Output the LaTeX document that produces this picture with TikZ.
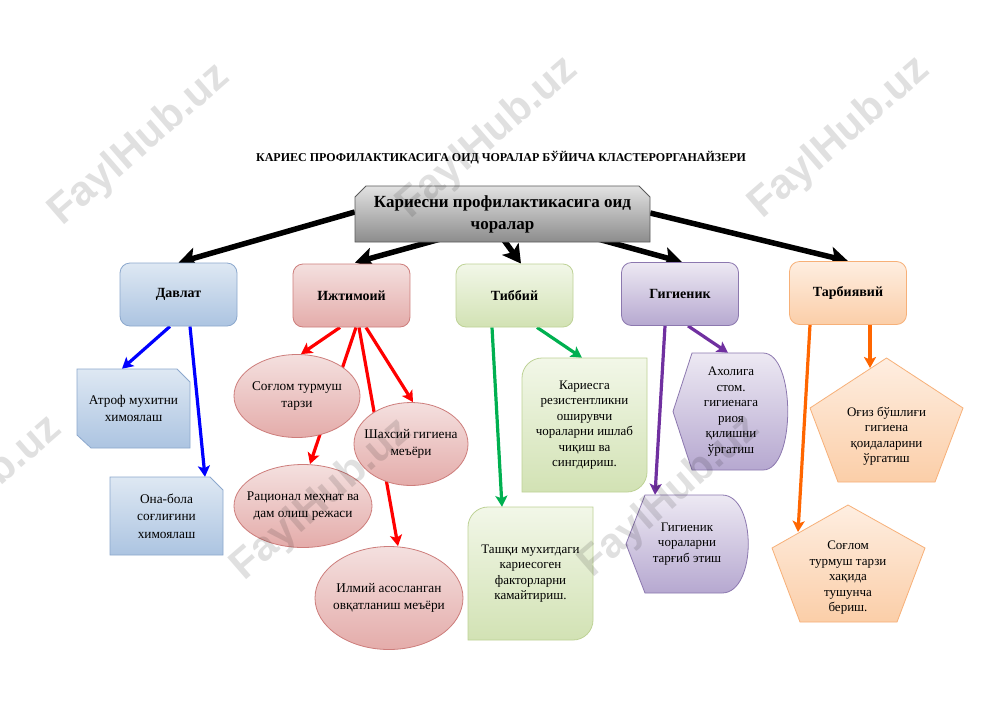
\documentclass[tikz,border=0pt]{standalone}
\usepackage{fontspec}
\setmainfont{Liberation Serif}
\newfontfamily\wmfont{Liberation Sans}
\usetikzlibrary{shapes.geometric,arrows.meta,calc}
\pgfdeclarelayer{bg}
\pgfdeclarelayer{paper}
\pgfsetlayers{paper,bg,main}
\definecolor{grayT}{RGB}{226,226,226}
\definecolor{grayB}{RGB}{140,140,140}
\definecolor{grayD}{RGB}{90,90,90}
\definecolor{blueT}{RGB}{222,232,243}
\definecolor{blueB}{RGB}{172,196,225}
\definecolor{blueD}{RGB}{140,168,205}
\definecolor{redT}{RGB}{244,224,223}
\definecolor{redB}{RGB}{228,172,170}
\definecolor{redD}{RGB}{205,125,123}
\definecolor{greenT}{RGB}{242,247,232}
\definecolor{greenB}{RGB}{210,226,180}
\definecolor{greenD}{RGB}{190,210,150}
\definecolor{purpT}{RGB}{237,233,243}
\definecolor{purpB}{RGB}{182,168,208}
\definecolor{purpD}{RGB}{140,120,175}
\definecolor{oranT}{RGB}{254,238,225}
\definecolor{oranB}{RGB}{251,206,168}
\definecolor{oranD}{RGB}{247,176,120}
\definecolor{arBlue}{RGB}{0,0,255}
\definecolor{arRed}{RGB}{255,0,0}
\definecolor{arGreen}{RGB}{0,176,80}
\definecolor{arPurp}{RGB}{112,48,160}
\definecolor{arOran}{RGB}{255,102,0}
\begin{document}
\begin{tikzpicture}[x=1pt,y=-1pt,
  cat/.style={rectangle, rounded corners=10pt, minimum width=117pt, minimum height=63pt,
    inner sep=0pt, line width=0.8pt, font=\bfseries\fontsize{14}{16}\selectfont},
  lbl/.style={inner sep=0pt, align=center, font=\fontsize{13.3}{17.5}\selectfont},
  lbltight/.style={inner sep=0pt, align=center, font=\fontsize{13}{15.5}\selectfont},
  shp/.style={line width=0.8pt},
  ell/.style={ellipse, shp, draw=redD, top color=redT, bottom color=redB, lbl,
    inner xsep=-30pt, inner ysep=-20pt},
  blk/.style={line width=5.5pt, draw=black, -{Stealth[length=18pt,width=20pt,inset=4pt]}},
  col/.style={line width=3.2pt, -{Stealth[length=11pt,width=12pt,inset=2.5pt]}},
  wm/.style={rotate=41, font=\wmfont\bfseries\fontsize{42}{42}\selectfont, text=black, text opacity=0.12, inner sep=0pt}
]
\useasboundingbox (0,0) rectangle (1000,707);
\begin{pgfonlayer}{paper}
\fill[white] (0,0) rectangle (1000,707);
\end{pgfonlayer}

% title
\node[font=\bfseries\fontsize{12}{14}\selectfont] (title) at (501,158)
  {КАРИЕС ПРОФИЛАКТИКАСИГА ОИД ЧОРАЛАР БЎЙИЧА КЛАСТЕРОРГАНАЙЗЕРИ};

% main box
\path[shp, draw=grayD, top color=grayT, bottom color=grayB]
  (355,197) -- (366,186) -- (639,186) -- (650,197) -- (650,242) -- (355,242) -- cycle;
\node[inner sep=0pt, minimum width=295pt, minimum height=56pt, align=center,
  font=\bfseries\fontsize{17}{22}\selectfont] (main) at (502.5,214)
  {Кариесни профилактикасига оид\\чоралар};

% categories
\node[cat, draw=blueD, top color=blueT, bottom color=blueB] (davlat) at (178.5,294.5) {Давлат};
\node[cat, draw=redD, top color=redT, bottom color=redB] (izhtimoiy) at (351.5,295.5) {Ижтимоий};
\node[cat, draw=greenD, top color=greenT, bottom color=greenB] (tibbiy) at (514.5,295.5) {Тиббий};
\node[cat, draw=purpD, top color=purpT, bottom color=purpB] (gigienik) at (680,294) {Гигиеник};
\node[cat, draw=oranD, top color=oranT, bottom color=oranB] (tarbiyaviy) at (848,293) {Тарбиявий};

% blue children
\path[shp, draw=blueD, top color=blueT, bottom color=blueB]
  (77,369) -- (177,369) -- (190,382) -- (190,448) -- (91,448) -- (77,435) -- cycle;
\node[lbl, minimum width=113pt, minimum height=79pt] (atrof) at (133.5,408.5)
  {Атроф мухитни\\химоялаш};
\path[shp, draw=blueD, top color=blueT, bottom color=blueB]
  (110,477) -- (210,477) -- (223,490) -- (223,555) -- (110,555) -- cycle;
\node[lbl, minimum width=113pt, minimum height=78pt] (onabola) at (166.5,516)
  {Она-бола\\соғлиғини\\химоялаш};

% red children
\node[ell, minimum width=126pt, minimum height=83pt] (soglom) at (297,396) {Соғлом турмуш\\тарзи};
\node[ell, minimum width=114pt, minimum height=83pt] (shaxsiy) at (411,444) {Шахсий гигиена\\меъёри};
\node[ell, minimum width=138pt, minimum height=83pt] (rational) at (303,506) {Рационал меҳнат ва\\дам олиш режаси};
\node[ell, minimum width=148pt, minimum height=103pt] (ilmiy) at (389,598) {Илмий асосланган\\овқатланиш меъёри};

% green children
\path[shp, draw=greenD, top color=greenT, bottom color=greenB]
  (522,378) .. controls (522,367) and (531,358) .. (542,358) -- (647,358) -- (647,472)
  .. controls (647,483) and (638,492) .. (627,492) -- (522,492) -- cycle;
\node[lbltight, minimum width=125pt, minimum height=134pt] (kariesga) at (584.5,425)
  {Кариесга\\резистентликни\\оширувчи\\чораларни ишлаб\\чиқиш ва\\сингдириш.};
\path[shp, draw=greenD, top color=greenT, bottom color=greenB]
  (468,527) .. controls (468,516) and (477,507) .. (488,507) -- (593,507) -- (593,620)
  .. controls (593,631) and (584,640) .. (573,640) -- (468,640) -- cycle;
\node[lbltight, minimum width=125pt, minimum height=133pt] (tashqi) at (530.5,573.5)
  {Ташқи мухитдаги\\кариесоген\\факторларни\\камайтириш.};

% purple children
\path[shp, draw=purpD, top color=purpT, bottom color=purpB]
  (692,353) -- (763,353) .. controls (796,353) and (796,470) .. (763,470) -- (692,470) -- (673,411.5) -- cycle;
\node[lbltight, minimum width=100pt, minimum height=117pt] (aholiga) at (731,411.5)
  {Ахолига\\стом.\\гигиенага\\риоя\\қилишни\\ўргатиш};
\path[shp, draw=purpD, top color=purpT, bottom color=purpB]
  (645,495) -- (722,495) .. controls (757,495) and (757,593) .. (722,593) -- (645,593) -- (626,544) -- cycle;
\node[lbltight, minimum width=100pt, minimum height=98pt] (targib) at (687,544)
  {Гигиеник\\чораларни\\тарғиб этиш};

% orange children
\path[shp, draw=oranD, top color=oranT, bottom color=oranB]
  (886.5,358) -- (963,408) -- (935,482) -- (838,482) -- (810,408) -- cycle;
\node[lbltight] (ogiz) at (886.5,436)
  {Оғиз бўшлиғи\\гигиена\\қоидаларини\\ўргатиш};
\path[shp, draw=oranD, top color=oranT, bottom color=oranB]
  (848,505) -- (925,548) -- (897,622) -- (800,622) -- (772,548) -- cycle;
\node[lbltight] (soglomb) at (848,578)
  {Соғлом\\турмуш тарзи\\хақида\\тушунча\\бериш.};

% connectors
\begin{pgfonlayer}{bg}
\draw[blk] ([shift={(0,-2)}]main.west) -- (davlat.north);
\draw[blk] ([shift={(-55.5,-5)}]main.south) -- ([shift={(3.5,-1)}]izhtimoiy.north);
\draw[blk] ([shift={(0,-4)}]main.south) -- ([shift={(6.5,0)}]tibbiy.north);
\draw[blk] ([shift={(92.5,-4)}]main.south) -- ([shift={(2,0)}]gigienik.north);
\draw[blk] ([shift={(0,-1)}]main.east) -- (tarbiyaviy.north);

\draw[col, draw=arBlue, fill=arBlue] ([shift={(-8.5,0)}]davlat.south) -- ([shift={(-11.5,0)}]atrof.north);
\draw[col, draw=arBlue, fill=arBlue] ([shift={(11.5,0)}]davlat.south) -- ([shift={(38.5,0)}]onabola.north);

\draw[col, draw=arRed, fill=arRed] ([shift={(-11.5,0)}]izhtimoiy.south) -- ([shift={(4,0)}]soglom.north);
\draw[col, draw=arRed, fill=arRed] ([shift={(4.5,0)}]izhtimoiy.south) -- ([shift={(7,0)}]rational.north);
\draw[col, draw=arRed, fill=arRed] ([shift={(7.5,0)}]izhtimoiy.south) -- ([shift={(9,0)}]ilmiy.north);
\draw[col, draw=arRed, fill=arRed] ([shift={(14.5,0)}]izhtimoiy.south) -- ([shift={(2,0)}]shaxsiy.north);

\draw[col, draw=arGreen, fill=arGreen] ([shift={(-22.5,0)}]tibbiy.south) -- ([shift={(-28.5,0)}]tashqi.north);
\draw[col, draw=arGreen, fill=arGreen] ([shift={(22.5,0)}]tibbiy.south) -- ([shift={(-2.5,0)}]kariesga.north);

\draw[col, draw=arPurp, fill=arPurp] ([shift={(-15,0)}]gigienik.south) -- ([shift={(-32,0)}]targib.north);
\draw[col, draw=arPurp, fill=arPurp] ([shift={(8,0)}]gigienik.south) -- ([shift={(-3,0)}]aholiga.north);

\draw[col, draw=arOran, fill=arOran] ([shift={(-38,0)}]tarbiyaviy.south) -- ([shift={(-50,-46)}]soglomb.center);
\draw[col, draw=arOran, fill=arOran] ([shift={(22,0)}]tarbiyaviy.south) -- ([shift={(-16.5,-68)}]ogiz.center);
\end{pgfonlayer}

% watermarks
\node[wm] (wm1) at (140,145) {FaylHub.uz};
\node[wm] (wm2) at (488,138) {FaylHub.uz};
\node[wm] (wm3) at (840,138) {FaylHub.uz};
\node[wm] (wm4) at (-28,497) {FaylHub.uz};
\node[wm] (wm5) at (322,500) {FaylHub.uz};
\node[wm] (wm6) at (670,497) {FaylHub.uz};
\end{tikzpicture}
\end{document}
